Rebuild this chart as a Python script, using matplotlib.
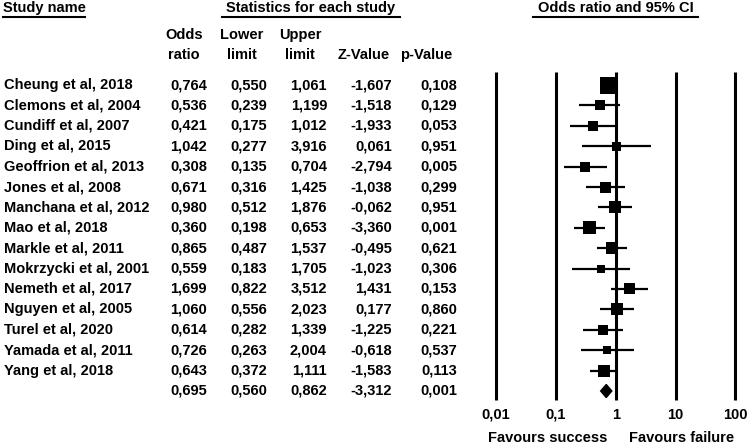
import numpy as np
import matplotlib.pyplot as plt
from matplotlib.transforms import blended_transform_factory

plt.rcParams['font.family'] = ['Liberation Sans', 'DejaVu Sans']
plt.rcParams['font.weight'] = 'bold'

studies = ['Cheung et al, 2018', 'Clemons et al, 2004', 'Cundiff et al, 2007',
           'Ding et al, 2015', 'Geoffrion et al, 2013', 'Jones et al, 2008',
           'Manchana et al, 2012', 'Mao et al, 2018', 'Markle et al, 2011',
           'Mokrzycki et al, 2001', 'Nemeth et al, 2017', 'Nguyen et al, 2005',
           'Turel et al, 2020', 'Yamada et al, 2011', 'Yang et al, 2018']
odds = [0.764, 0.536, 0.421, 1.042, 0.308, 0.671, 0.980, 0.360, 0.865,
        0.559, 1.699, 1.060, 0.614, 0.726, 0.643]
lower = [0.550, 0.239, 0.175, 0.277, 0.135, 0.316, 0.512, 0.198, 0.487,
         0.183, 0.822, 0.556, 0.282, 0.263, 0.372]
upper = [1.061, 1.199, 1.012, 3.916, 0.704, 1.425, 1.876, 0.653, 1.537,
         1.705, 3.512, 2.023, 1.339, 2.004, 1.111]
zval = ['-1,607', '-1,518', '-1,933', '0,061', '-2,794', '-1,038', '-0,062',
        '-3,360', '-0,495', '-1,023', '1,431', '0,177', '-1,225', '-0,618', '-1,583']
pval = ['0,108', '0,129', '0,053', '0,951', '0,005', '0,299', '0,951', '0,001',
        '0,621', '0,306', '0,153', '0,860', '0,221', '0,537', '0,113']
# relative box size
rel_weight = [17, 10, 10, 9, 10, 11, 12, 13, 12, 8, 11, 12, 10, 8, 12]

pooled = (0.695, 0.560, 0.862, '-3,312', '0,001')
ticks = [0.01, 0.1, 1, 10, 100]
tick_labels = ['0,01', '0,1', '1', '10', '100']

W, H = 749, 446
fig = plt.figure(figsize=(W / 100, H / 100), dpi=100)

# forest axes: log x, row index on y (row 0 at 85 px from top, 20.4 px per row)
x0, x1 = 466, 749
one_px, dec_px = 615.7, 59.8
row0, row_h = 85, 20.4
ax = fig.add_axes([x0 / W, 0, (x1 - x0) / W, 1])
ax.set_xscale('log')
ax.set_xlim(10 ** ((x0 - one_px) / dec_px), 10 ** ((x1 - one_px) / dec_px))
ax.set_ylim((H - row0) / row_h, -row0 / row_h)
ax.axis('off')

def ry(px):
    return (px - row0) / row_h

ax.vlines(ticks, ry(72), ry(400), color='black', lw=2.2)

n = len(studies)
rows = np.arange(n)
ax.hlines(rows, lower, upper, color='black', lw=1.6)
ax.scatter(odds, rows, marker='s', s=[(w * 0.72) ** 2 for w in rel_weight],
           color='black', zorder=3, linewidths=0)

# pooled diamond
pr = n
dh = 0.32
ax.fill([pooled[1], pooled[0], pooled[2], pooled[0]],
        [pr, pr - dh, pr, pr + dh], color='black', zorder=3)

for t, lab in zip(ticks, tick_labels):
    ax.text(t, ry(415), lab, ha='center', va='center', fontsize=10.5)

# table text: x in figure pixels, y in row coordinates
tr = blended_transform_factory(fig.transFigure, ax.transData)
fs = 10.5

def ftext(xpx, y, s, **kw):
    fig.text(xpx / W, y, s, transform=tr, fontsize=kw.pop('fontsize', fs), **kw)

col_right = [207, 267, 327, 392, 457]
col_center = [184, 242, 300, 364, 426]

for i in range(n):
    ftext(4, i, studies[i], ha='left', va='center')
    vals = ['%.3f' % odds[i], '%.3f' % lower[i], '%.3f' % upper[i]]
    vals = [v.replace('.', ',') for v in vals] + [zval[i], pval[i]]
    for xr, v in zip(col_right, vals):
        ftext(xr, i, v, ha='right', va='center')

pvals = ['%.3f' % pooled[0], '%.3f' % pooled[1], '%.3f' % pooled[2]]
pvals = [v.replace('.', ',') for v in pvals] + [pooled[3], pooled[4]]
for xr, v in zip(col_right, pvals):
    ftext(xr, n, v, ha='right', va='center')

# column headers
ftext(col_center[0], ry(35), 'Odds', ha='center', va='center')
ftext(col_center[0], ry(55), 'ratio', ha='center', va='center')
ftext(col_center[1], ry(35), 'Lower', ha='center', va='center')
ftext(col_center[1], ry(55), 'limit', ha='center', va='center')
ftext(col_center[2], ry(35), 'Upper', ha='center', va='center')
ftext(col_center[2], ry(55), 'limit', ha='center', va='center')
ftext(col_center[3], ry(55), 'Z-Value', ha='center', va='center')
ftext(col_center[4], ry(55), 'p-Value', ha='center', va='center')

# group headers with underlines
ftext(3, ry(8), 'Study name', ha='left', va='center')
ftext(311, ry(8), 'Statistics for each study', ha='center', va='center')
ftext(616, ry(8), 'Odds ratio and 95% CI', ha='center', va='center')
for a, b in [(3, 85), (222, 400), (533, 698)]:
    fig.add_artist(plt.Line2D([a / W, b / W], [1 - 17 / H, 1 - 17 / H],
                              color='black', lw=1.5))

fig.text(548 / W, 1 - 438 / H, 'Favours success', ha='center', va='center', fontsize=fs)
fig.text(682 / W, 1 - 438 / H, 'Favours failure', ha='center', va='center', fontsize=fs)

fig.savefig('out.png', dpi=100, facecolor='white')
